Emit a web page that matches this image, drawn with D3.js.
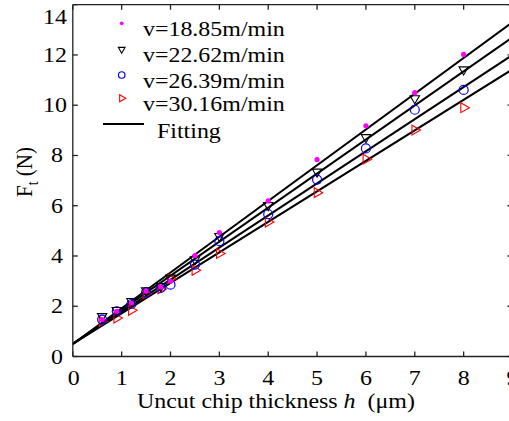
<!DOCTYPE html>
<html>
<head>
<meta charset="utf-8">
<script src="https://cdn.jsdelivr.net/npm/d3@7/dist/d3.min.js"></script>
<style>
  body { margin: 0; background: #fff; }
  text { font-family: "Liberation Serif", "Times New Roman", serif; fill: #000; }
</style>
</head>
<body>
<svg id="chart" width="509" height="421"></svg>
<script>
// uncut chip thickness h (um)
const hVals = [0.6, 0.9, 1.2, 1.5, 1.8, 2, 2.5, 3, 4, 5, 6, 7, 8]

// thrust force Ft (N) per cutting speed
const f1885 = [1.47, 1.80, 2.13, 2.60, 2.77, 3.00, 4.02, 4.93, 6.19, 7.84, 9.18, 10.50, 12.02]
const f2262 = [1.60, 1.84, 2.20, 2.63, 2.80, 3.13, 3.86, 4.79, 6.02, 7.35, 8.72, 10.27, 11.42]
const f2639 = [1.47, 1.80, 2.09, 2.55, 2.73, 2.86, 3.66, 4.59, 5.66, 7.04, 8.28, 9.82, 10.61]
const f3016 = [1.40, 1.53, 1.84, 2.50, 2.69, 3.09, 3.43, 4.10, 5.35, 6.52, 7.85, 9.01, 9.90]

const seriesNames = ["v=18.85m/min", "v=22.62m/min", "v=26.39m/min", "v=30.16m/min"]

// fitting lines, value at h=0 and h=9
const fitH = [0, 9]
const fit1885 = [0.5, 13.3]
const fit2262 = [0.5, 12.7]
const fit2639 = [0.5, 12.0]
const fit3016 = [0.5, 11.43]

const xTicks = [0, 1, 2, 3, 4, 5, 6, 7, 8, 9]
const yTicks = [0, 2, 4, 6, 8, 10, 12, 14]

const svg = d3.select("#chart")
const SX = 1.14   // the original text is a bit wider than it is tall

const x = d3.scaleLinear().domain([0, 9]).range([72.8, 512.5])
const y = d3.scaleLinear().domain([0, 14]).range([356.5, 4.7])

function label(g, px, py, str, anchor, size) {
  return g.append("text")
    .attr("transform", `translate(${px},${py}) scale(${SX},1)`)
    .attr("text-anchor", anchor || "start")
    .style("font-size", (size || 21) + "px")
    .text(str)
}

// fitting lines
svg.append("clipPath").attr("id", "plotclip")
  .append("rect").attr("x", x(0)).attr("y", y(14)).attr("width", x(9) - x(0)).attr("height", y(0) - y(14))

const line = d3.line().x(d => x(d[0])).y(d => y(d[1]))
const fits = [fit1885, fit2262, fit2639, fit3016]
svg.append("g").attr("clip-path", "url(#plotclip)")
  .selectAll("path")
  .data(fits)
  .join("path")
  .attr("d", f => line(fitH.map((h, i) => [h, f[i]])))
  .attr("fill", "none")
  .attr("stroke", "#000")
  .attr("stroke-width", 2)

// markers
const tri = d3.symbol().type(d3.symbolTriangle)

function drawMarker(g, kind, cx, cy, small) {
  const k = small ? 0.72 : 1
  if (kind == 0) {
    g.append("circle").attr("cx", cx).attr("cy", cy).attr("r", 2.6 * k)
      .attr("fill", "#ff00ff")
  } else if (kind == 1) {
    g.append("path").attr("d", tri.size(38 * k * k)())
      .attr("transform", `translate(${cx},${cy}) rotate(180)`)
      .attr("fill", "none").attr("stroke", "#000").attr("stroke-width", 1.1)
  } else if (kind == 2) {
    g.append("circle").attr("cx", cx).attr("cy", cy).attr("r", 4.5 * k)
      .attr("fill", "none").attr("stroke", "#0000ff").attr("stroke-width", 1.2)
  } else {
    g.append("path").attr("d", tri.size(42 * k * k)())
      .attr("transform", `translate(${cx},${cy}) rotate(90)`)
      .attr("fill", "none").attr("stroke", "#ff0000").attr("stroke-width", 1.1)
  }
}

const allSeries = [f1885, f2262, f2639, f3016]
const pts = svg.append("g")
// draw slowest speed last so the magenta dots sit on top like the original
;[3, 2, 1, 0].forEach(s => {
  allSeries[s].forEach((v, i) => drawMarker(pts, s, x(hVals[i]), y(v), false))
})

// axes box
const axisG = svg.append("g").attr("stroke", "#222").attr("stroke-width", 1.3)
axisG.append("line").attr("x1", x(0)).attr("x2", x(9)).attr("y1", y(0)).attr("y2", y(0))
axisG.append("line").attr("x1", x(0)).attr("x2", x(9)).attr("y1", y(14)).attr("y2", y(14))
axisG.append("line").attr("x1", x(0)).attr("x2", x(0)).attr("y1", y(0)).attr("y2", y(14))
axisG.append("line").attr("x1", x(9)).attr("x2", x(9)).attr("y1", y(0)).attr("y2", y(14))

const tl = 5
xTicks.forEach(t => {
  axisG.append("line").attr("x1", x(t)).attr("x2", x(t)).attr("y1", y(0)).attr("y2", y(0) - tl)
  axisG.append("line").attr("x1", x(t)).attr("x2", x(t)).attr("y1", y(14)).attr("y2", y(14) + tl)
})
yTicks.forEach(t => {
  axisG.append("line").attr("x1", x(0)).attr("x2", x(0) + tl).attr("y1", y(t)).attr("y2", y(t))
  axisG.append("line").attr("x1", x(9)).attr("x2", x(9) - tl).attr("y1", y(t)).attr("y2", y(t))
})

// tick labels
const tg = svg.append("g")
xTicks.forEach(t => {
  label(tg, x(t) + (t == 0 ? 1 : 0), 385, String(t), "middle")
})
yTicks.forEach(t => {
  // top and bottom labels sit a little inside like the original
  let py = Math.min(Math.max(y(t), 17), 365) + 7
  let px = t >= 10 ? 67 : 63
  label(tg, px, py, String(t), "end")
})

// axis titles
const xt = svg.append("text")
  .attr("transform", `translate(137,408) scale(${SX},1)`)
  .style("font-size", "21px")
xt.append("tspan").text("Uncut chip thickness ")
xt.append("tspan").style("font-style", "italic").text("h")
xt.append("tspan").text("\u00a0 (\u03bcm)")

const yt = svg.append("text")
  .attr("transform", `translate(32,172) scale(${SX},1) rotate(-90)`)
  .attr("text-anchor", "middle")
  .style("font-size", "21px")
yt.append("tspan").text("F")
yt.append("tspan").attr("dy", 5).style("font-size", "14px").text("t")
yt.append("tspan").attr("dy", -5).text(" (N)")

// legend
const lg = svg.append("g")
const legY = [23.3, 49.3, 75, 98.3]
seriesNames.forEach((name, i) => {
  drawMarker(lg, i, 121.7, legY[i], true)
  label(lg, 143, legY[i] + 13, name, "start")
})
lg.append("line").attr("x1", 103).attr("x2", 144).attr("y1", 124).attr("y2", 124)
  .attr("stroke", "#000").attr("stroke-width", 2)
label(lg, 157, 138, "Fitting", "start")
</script>
</body>
</html>
